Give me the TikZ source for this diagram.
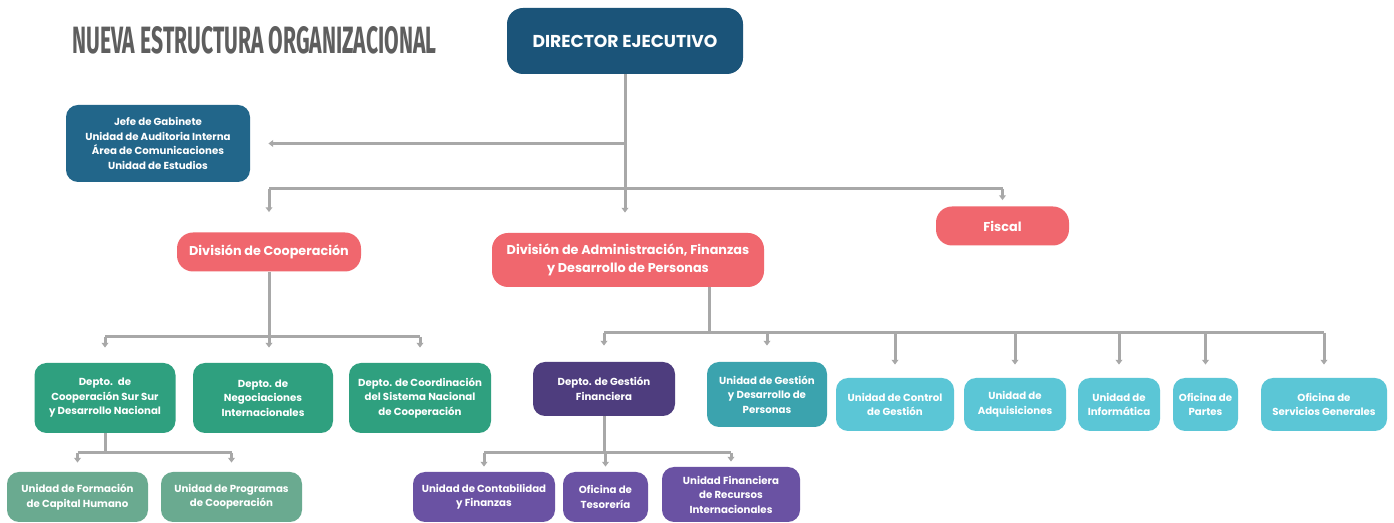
\documentclass[tikz,border=0pt]{standalone}
\usepackage{fontspec}
\usepackage{graphicx}
\usetikzlibrary{arrows.meta}
\newfontfamily\orgfont{Poppins}
\newfontfamily\titlefont{Fira Sans}
\definecolor{titlegray}{HTML}{5E5E5E}
\definecolor{dirblue}{HTML}{1B5479}
\definecolor{jefeblue}{HTML}{22668A}
\definecolor{coral}{HTML}{F0676E}
\definecolor{deptogreen}{HTML}{2FA07F}
\definecolor{subgreen}{HTML}{6AAA90}
\definecolor{darkpurple}{HTML}{4E3D7E}
\definecolor{purple}{HTML}{6A52A3}
\definecolor{teal}{HTML}{3BA3AE}
\definecolor{cyan}{HTML}{5BC6D6}
\definecolor{linegray}{HTML}{A8A8A8}

\begin{document}
\begin{tikzpicture}[x=0.5pt,y=-0.5pt,
  every node/.style={font=\orgfont\bfseries\fontsize{5.1}{7.25}\selectfont},
  unit/.style={rounded corners=6pt, text=white, align=center, inner sep=0pt},
  division/.style={unit, fill=coral, rounded corners=8pt, minimum height=19.5pt,
    font=\orgfont\bfseries\fontsize{6.4}{9}\selectfont},
  link/.style={draw=linegray, line width=1.5pt},
  tip/.style={link, -{Triangle[length=2.4pt,width=3.4pt]}}]
\fill[white] (0,0) rectangle (1394,523);
\useasboundingbox (0,0) rectangle (1394,523);

% title and top level
\node[anchor=west, inner sep=0pt, text=titlegray] (title) at (72,40)
  {\resizebox{182pt}{13.5pt}{\titlefont\bfseries NUEVA ESTRUCTURA ORGANIZACIONAL}};
\node[unit, fill=dirblue, rounded corners=8pt, minimum width=118pt, minimum height=33pt,
  font=\orgfont\bfseries\fontsize{8.6}{10}\selectfont] (dir) at (625,41) {DIRECTOR EJECUTIVO};
\node[unit, fill=jefeblue, minimum width=92pt, minimum height=38.5pt,
  font=\orgfont\bfseries\fontsize{5.1}{7.35}\selectfont] (jefe) at (158,143.5)
  {Jefe de Gabinete\\Unidad de Auditoria Interna\\Área de Comunicaciones\\Unidad de Estudios};

% divisions
\node[division, minimum width=92pt] (dcoop) at (269,252) {División de Cooperación};
\node[division, minimum width=136pt, minimum height=27pt] (dadm) at (628,260)
  {División de Administración, Finanzas\\y Desarrollo de Personas};
\node[division, minimum width=66.5pt] (fiscal) at (1002.5,226) {Fiscal};

% cooperation branch
\node[unit, fill=deptogreen, minimum width=70.5pt, minimum height=35pt] (dsur) at (105,398)
  {Depto.~ de\\Cooperación Sur Sur\\y Desarrollo Nacional};
\node[unit, fill=deptogreen, minimum width=70pt, minimum height=35pt] (dneg) at (263,398)
  {Depto. de\\Negociaciones\\Internacionales};
\node[unit, fill=deptogreen, minimum width=71pt, minimum height=35pt] (dcoord) at (420,398)
  {Depto. de Coordinación\\del Sistema Nacional\\de Cooperación};
\node[unit, fill=subgreen, minimum width=70.5pt, minimum height=25pt] (uform) at (77.5,497)
  {Unidad de Formación\\de Capital Humano};
\node[unit, fill=subgreen, minimum width=70.5pt, minimum height=25pt] (uprog) at (231.5,497)
  {Unidad de Programas\\de Cooperación};

% administration branch
\node[unit, fill=darkpurple, minimum width=71pt, minimum height=27pt] (dgf) at (604,389)
  {Depto. de Gestión\\Financiera};
\node[unit, fill=teal, minimum width=60pt, minimum height=32.5pt] (ugdp) at (767,394.5)
  {Unidad de Gestión\\y Desarrollo de\\Personas};
\node[unit, fill=cyan, minimum width=59pt, minimum height=26.5pt] (ucg) at (895,404.5)
  {Unidad de Control\\de Gestión};
\node[unit, fill=cyan, minimum width=51pt, minimum height=26.5pt] (uadq) at (1015,404.5)
  {Unidad de\\Adquisiciones};
\node[unit, fill=cyan, minimum width=41pt, minimum height=26.5pt] (uinf) at (1119,404.5)
  {Unidad de\\Informática};
\node[unit, fill=cyan, minimum width=32.5pt, minimum height=26.5pt] (opar) at (1205.5,404.5)
  {Oficina de\\Partes};
\node[unit, fill=cyan, minimum width=63pt, minimum height=26.5pt] (oserv) at (1324,404.5)
  {Oficina de\\Servicios Generales};
\node[unit, fill=purple, minimum width=71pt, minimum height=25pt] (ucont) at (484,497)
  {Unidad de Contabilidad\\y Finanzas};
\node[unit, fill=purple, minimum width=42.5pt, minimum height=25pt] (otes) at (605.5,497)
  {Oficina de\\Tesorería};
\node[unit, fill=purple, minimum width=69pt, minimum height=27.5pt] (ufin) at (731,494.5)
  {Unidad Financiera\\de Recursos\\Internacionales};

% connectors
\coordinate (bar1) at (0,189);
\coordinate (bar2) at (0,337);
\coordinate (bar3) at (0,453);
\coordinate (bar4) at (0,333);
\coordinate (bar5) at (0,453);
\draw[tip, shorten >=10pt] (dir.south) -- (dir.south |- dadm.north);
\draw[tip, shorten >=9pt] (dir.south |- jefe.east) -- (jefe.east);
\draw[link] (dcoop.north |- bar1) -- (fiscal.north |- bar1);
\draw[tip, shorten >=10pt] (dcoop.north |- bar1) -- (dcoop.north);
\draw[tip, shorten >=3pt] (fiscal.north |- bar1) -- (fiscal.north);

\draw[tip, shorten >=7.5pt] (dcoop.south) -- (dcoop.south |- dneg.north);
\draw[link] (dsur.north |- bar2) -- (dcoord.north |- bar2);
\draw[tip, shorten >=7.5pt] (dsur.north |- bar2) -- (dsur.north);
\draw[tip, shorten >=7.5pt] (dcoord.north |- bar2) -- (dcoord.north);
\draw[link] (dsur.south) -- (dsur.south |- bar3);
\draw[link] (uform.north |- bar3) -- (uprog.north |- bar3);
\foreach \n in {uform,uprog}
  \draw[tip, shorten >=4.5pt] (\n.north |- bar3) -- (\n.north);

\draw[link] ([xshift=40.5pt]dadm.south) -- ([xshift=40.5pt]dadm.south |- bar4);
\draw[link] (dgf.north |- bar4) -- (oserv.north |- bar4);
\foreach \n/\s in {dgf/8pt,ugdp/8pt,ucg/6.5pt,uadq/6.5pt,uinf/6.5pt,opar/6.5pt,oserv/6.5pt}
  \draw[tip, shorten >=\s] (\n.north |- bar4) -- (\n.north);
\draw[link] (dgf.south) -- (dgf.south |- bar5);
\draw[link] (ucont.north |- bar5) -- (ufin.north |- bar5);
\foreach \n in {ucont,otes,ufin}
  \draw[tip, shorten >=2.5pt] (\n.north |- bar5) -- (\n.north);
\end{tikzpicture}
\end{document}
